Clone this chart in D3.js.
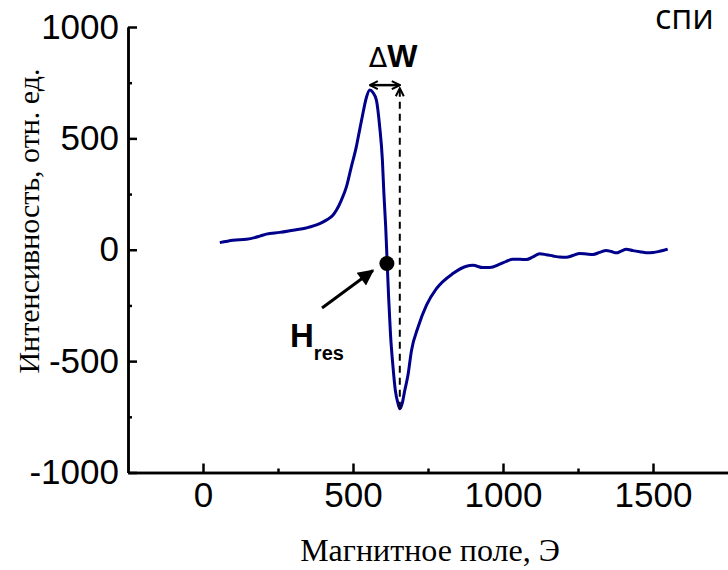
<!DOCTYPE html>
<html>
<head>
<meta charset="utf-8">
<script src="https://cdn.jsdelivr.net/npm/d3@7"></script>
<style>
  body { margin: 0; background: #fff; }
  svg { display: block; }
</style>
</head>
<body>
<svg id="chart"></svg>
<script>
// EPR derivative spectrum
const field = [56, 100, 145, 189, 211, 256, 300, 344, 389, 411, 433, 445, 461, 478, 494, 511, 522, 533, 544, 556,
    567, 578, 589, 598, 603, 609, 614, 619, 625, 633, 641, 650, 656, 664, 672, 683, 695, 717, 745, 778,
    833, 878, 900, 933, 956, 989, 1011, 1033, 1056, 1078, 1100, 1122, 1144, 1167, 1189, 1211, 1233, 1256, 1278, 1300,
    1322, 1344, 1361, 1378, 1394, 1411, 1433, 1456, 1478, 1500, 1522, 1549];
const intensity = [32, 43, 47, 61, 70, 78, 88, 98, 117, 133, 155, 178, 222, 282, 370, 462, 537, 612, 680, 717,
    705, 672, 552, 402, 252, 102, -60, -220, -380, -520, -630, -690, -714, -690, -635, -565, -452, -347, -249, -175,
    -107, -74, -70, -80, -80, -65, -52, -43, -43, -44, -32, -18, -22, -28, -33, -34, -26, -17, -19, -21,
    -12, -3, -8, -14, -6, 2, -4, -9, -13, -12, -7, 3];

const xTicks = [0, 500, 1000, 1500];
const xMinor = [250, 750, 1250];
const yTicks = [-1000, -500, 0, 500, 1000];
const yMinor = [-750, -250, 250, 750];

// annotation anchors (field, intensity)
const resonance = [613, -62];
const peakField = 556;
const troughField = 656;
const troughValue = -714;
const widthLevel = 739;

const width = 728;
const height = 570;

const svg = d3.select("#chart")
    .attr("width", width)
    .attr("height", height);

const x = d3.scaleLinear().domain([-250, 1750]).range([128, 728]);
const y = d3.scaleLinear().domain([-1000, 1000]).range([472.5, 27]);

const defs = svg.append("defs");
defs.append("marker")
    .attr("id", "open")
    .attr("viewBox", "0 0 10 10")
    .attr("refX", 9).attr("refY", 5)
    .attr("markerWidth", 10).attr("markerHeight", 10)
    .attr("markerUnits", "userSpaceOnUse")
    .attr("orient", "auto-start-reverse")
    .append("path")
    .attr("d", "M1,1 L9,5 L1,9")
    .attr("fill", "none")
    .attr("stroke", "#000")
    .attr("stroke-width", 2);
defs.append("marker")
    .attr("id", "solid")
    .attr("viewBox", "0 0 10 10")
    .attr("refX", 9).attr("refY", 5)
    .attr("markerWidth", 18).attr("markerHeight", 16)
    .attr("markerUnits", "userSpaceOnUse")
    .attr("orient", "auto")
    .append("path")
    .attr("d", "M0,0 L10,5 L0,10 Z")
    .attr("fill", "#000");

// axes: major and minor ticks point inward
const fontAxis = "'Liberation Sans', Arial, sans-serif";
const plain = d => String(d);

const gx = svg.append("g").attr("transform", `translate(0,${y(-1000)})`);
gx.append("g").call(d3.axisBottom(x).tickValues(xMinor).tickSize(-4).tickFormat("").tickSizeOuter(0));
gx.append("g").attr("class", "major")
    .call(d3.axisBottom(x).tickValues(xTicks).tickFormat(plain).tickSize(-9).tickPadding(10).tickSizeOuter(0));

const gy = svg.append("g").attr("transform", `translate(${x(-250)},0)`);
gy.append("g").call(d3.axisLeft(y).tickValues(yMinor).tickSize(-4).tickFormat("").tickSizeOuter(0));
gy.append("g").attr("class", "major")
    .call(d3.axisLeft(y).tickValues(yTicks).tickFormat(plain).tickSize(-9).tickPadding(9).tickSizeOuter(0));

svg.selectAll(".domain").attr("stroke", "#000").attr("stroke-width", 2.5);
svg.selectAll(".tick line").attr("stroke", "#000").attr("stroke-width", 2.5);
svg.selectAll(".major .tick text")
    .style("font-family", fontAxis)
    .style("font-size", "35px")
    .attr("fill", "#000");

// axis titles
svg.append("text")
    .attr("transform", `translate(28,221) rotate(-90)`)
    .attr("text-anchor", "middle")
    .attr("dy", "0.35em")
    .style("font-family", "'Liberation Serif', 'Times New Roman', serif")
    .style("font-size", "30px")
    .text("Интенсивность, отн. ед.");

svg.append("text")
    .attr("x", 430)
    .attr("y", 561)
    .attr("text-anchor", "middle")
    .style("font-family", "'Liberation Serif', 'Times New Roman', serif")
    .style("font-size", "32px")
    .text("Магнитное поле, Э");

// spectrum
const line = d3.line()
    .x((d, i) => x(field[i]))
    .y(d => y(d))
    .curve(d3.curveMonotoneX);

svg.append("path")
    .datum(intensity)
    .attr("d", line)
    .attr("fill", "none")
    .attr("stroke", "#00008b")
    .attr("stroke-width", 3);

// ΔW: dashed line at trough and double arrow
svg.append("line")
    .attr("x1", x(troughField)).attr("y1", y(troughValue))
    .attr("x2", x(troughField)).attr("y2", y(widthLevel - 14))
    .attr("stroke", "#000")
    .attr("stroke-width", 2)
    .attr("stroke-dasharray", "7,5")
    .attr("marker-end", "url(#open)");

svg.append("line")
    .attr("x1", x(peakField)).attr("y1", y(widthLevel))
    .attr("x2", x(troughField)).attr("y2", y(widthLevel))
    .attr("stroke", "#000")
    .attr("stroke-width", 2.5)
    .attr("marker-start", "url(#open)")
    .attr("marker-end", "url(#open)");

const dw = svg.append("text")
    .attr("x", 393)
    .attr("y", 67)
    .attr("text-anchor", "middle")
    .style("font-family", fontAxis)
    .style("font-size", "32px")
    .style("font-weight", "bold");
dw.append("tspan").style("font-weight", "normal").style("font-family", "'DejaVu Sans', sans-serif").style("font-size", "27px").text("Δ");
dw.append("tspan").text("W");

// resonance point and H_res label
svg.append("circle")
    .attr("cx", x(resonance[0]))
    .attr("cy", y(resonance[1]))
    .attr("r", 7.5)
    .attr("fill", "#000");

svg.append("line")
    .attr("x1", 322).attr("y1", 308)
    .attr("x2", x(resonance[0]) - 14).attr("y2", y(resonance[1]) + 7)
    .attr("stroke", "#000")
    .attr("stroke-width", 3)
    .attr("marker-end", "url(#solid)");

const hres = svg.append("text")
    .attr("x", 290)
    .attr("y", 347)
    .style("font-family", fontAxis)
    .style("font-weight", "bold")
    .style("font-size", "33px");
hres.append("tspan").text("H");
hres.append("tspan").attr("dy", 13).style("font-size", "20px").text("res");

// cropped caption at top right
svg.append("text")
    .attr("x", 655)
    .attr("y", 29)
    .style("font-family", "'Open Sans', sans-serif")
    .style("font-size", "34px")
    .text("спи");
</script>
</body>
</html>
